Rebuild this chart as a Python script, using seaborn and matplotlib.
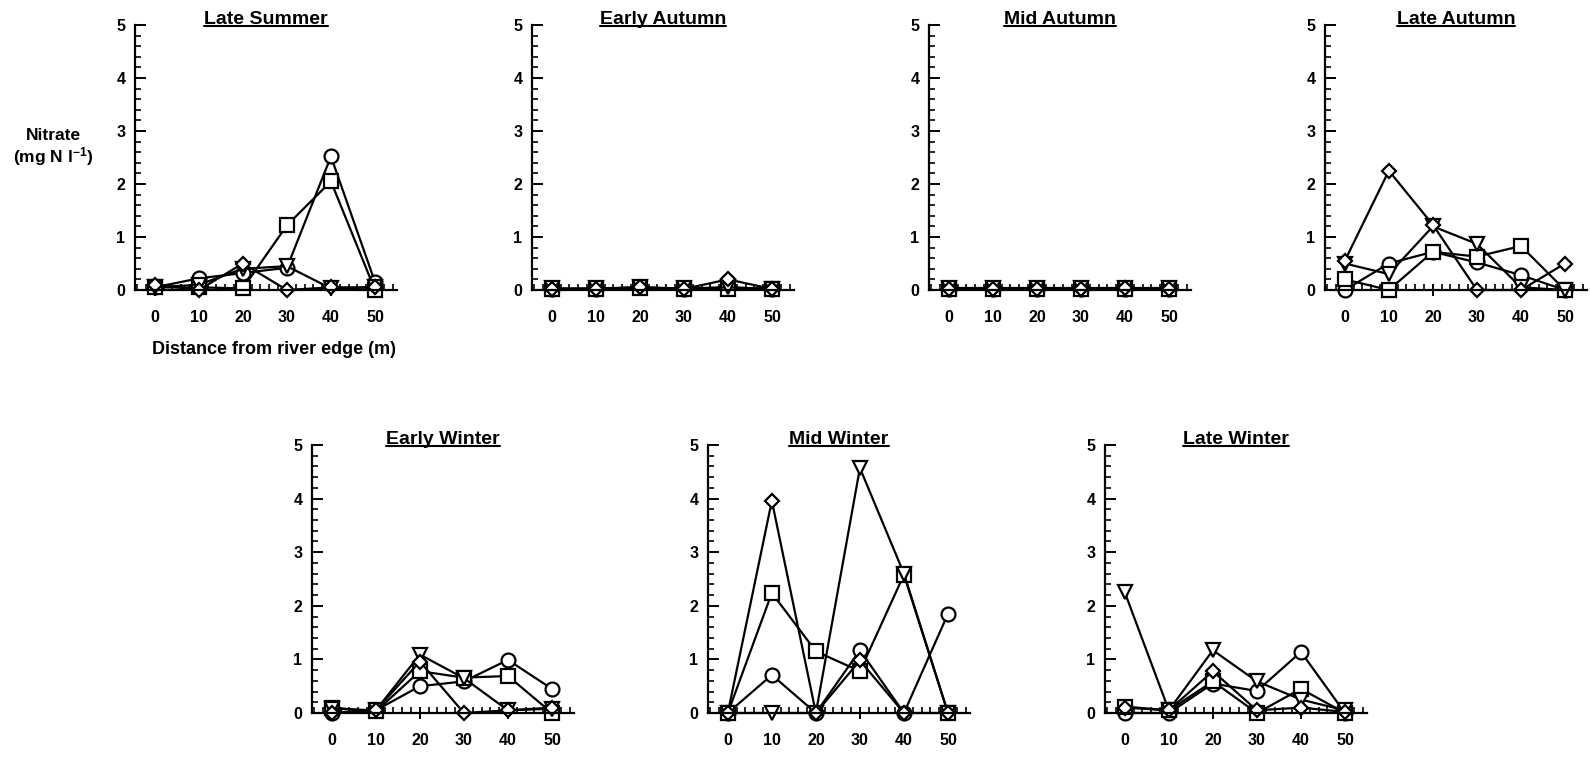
import numpy as np
import pandas as pd
import matplotlib
matplotlib.use("Agg")
import matplotlib.pyplot as plt
from matplotlib.ticker import MultipleLocator
from matplotlib.lines import Line2D
import seaborn as sns

# ---------------- data ----------------
distance = [0, 10, 20, 30, 40, 50]
seasons = ["Late Summer", "Early Autumn", "Mid Autumn", "Late Autumn",
           "Early Winter", "Mid Winter", "Late Winter"]
series_names = ["circle", "square", "triangle", "diamond"]

late_summer_circle = [0.05, 0.22, 0.32, 0.42, 2.52, 0.15]
late_summer_square = [0.05, 0.05, 0.03, 1.22, 2.05, 0.00]
late_summer_triangle = [0.05, 0.10, 0.40, 0.45, 0.03, 0.05]
late_summer_diamond = [0.10, 0.00, 0.50, 0.00, 0.05, 0.05]

early_autumn_circle = [0.02, 0.02, 0.05, 0.02, 0.05, 0.02]
early_autumn_square = [0.02, 0.02, 0.03, 0.02, 0.02, 0.02]
early_autumn_triangle = [0.03, 0.03, 0.05, 0.03, 0.05, 0.02]
early_autumn_diamond = [0.02, 0.02, 0.05, 0.02, 0.20, 0.02]

mid_autumn_circle = [0.02, 0.02, 0.02, 0.02, 0.02, 0.02]
mid_autumn_square = [0.02, 0.02, 0.02, 0.02, 0.02, 0.02]
mid_autumn_triangle = [0.03, 0.03, 0.03, 0.03, 0.03, 0.03]
mid_autumn_diamond = [0.02, 0.02, 0.02, 0.02, 0.03, 0.02]

late_autumn_circle = [0.00, 0.50, 0.72, 0.52, 0.28, 0.00]
late_autumn_square = [0.20, 0.00, 0.72, 0.63, 0.83, 0.00]
late_autumn_triangle = [0.50, 0.30, 1.20, 0.87, 0.05, 0.00]
late_autumn_diamond = [0.55, 2.25, 1.23, 0.00, 0.00, 0.50]

early_winter_circle = [0.00, 0.05, 0.50, 0.59, 0.99, 0.45]
early_winter_square = [0.10, 0.03, 0.78, 0.66, 0.69, 0.00]
early_winter_triangle = [0.08, 0.05, 1.09, 0.65, 0.05, 0.08]
early_winter_diamond = [0.00, 0.05, 0.96, 0.00, 0.05, 0.10]

mid_winter_circle = [0.00, 0.71, 0.00, 1.17, 0.00, 1.85]
mid_winter_square = [0.00, 2.24, 1.15, 0.78, 2.58, 0.00]
mid_winter_triangle = [0.00, 0.00, 0.00, 4.57, 2.60, 0.00]
mid_winter_diamond = [0.00, 3.96, 0.00, 0.98, 0.00, 0.00]

late_winter_circle = [0.00, 0.00, 0.55, 0.41, 1.14, 0.00]
late_winter_square = [0.12, 0.05, 0.59, 0.00, 0.45, 0.00]
late_winter_triangle = [2.25, 0.05, 1.17, 0.59, 0.25, 0.05]
late_winter_diamond = [0.10, 0.05, 0.78, 0.05, 0.10, 0.02]

panel_values = {
    "Late Summer": [late_summer_circle, late_summer_square, late_summer_triangle, late_summer_diamond],
    "Early Autumn": [early_autumn_circle, early_autumn_square, early_autumn_triangle, early_autumn_diamond],
    "Mid Autumn": [mid_autumn_circle, mid_autumn_square, mid_autumn_triangle, mid_autumn_diamond],
    "Late Autumn": [late_autumn_circle, late_autumn_square, late_autumn_triangle, late_autumn_diamond],
    "Early Winter": [early_winter_circle, early_winter_square, early_winter_triangle, early_winter_diamond],
    "Mid Winter": [mid_winter_circle, mid_winter_square, mid_winter_triangle, mid_winter_diamond],
    "Late Winter": [late_winter_circle, late_winter_square, late_winter_triangle, late_winter_diamond],
}

y_label = "Nitrate\n(mg N l$^{-1}$)"
x_label = "Distance from river edge (m)"

# ---------------- style ----------------
sns.set_theme(style="ticks")
plt.rcParams["font.family"] = ["Liberation Sans", "DejaVu Sans"]
plt.rcParams["font.weight"] = "bold"
plt.rcParams["text.color"] = "black"
plt.rcParams["axes.labelcolor"] = "black"
plt.rcParams["xtick.color"] = "black"
plt.rcParams["ytick.color"] = "black"
plt.rcParams["mathtext.fontset"] = "custom"
plt.rcParams["mathtext.rm"] = "Liberation Sans:bold"
plt.rcParams["mathtext.bf"] = "Liberation Sans:bold"
plt.rcParams["mathtext.it"] = "Liberation Sans:bold"
plt.rcParams["mathtext.default"] = "bf"

W, H = 1590, 759
fig = plt.figure(figsize=(W / 100, H / 100), dpi=100)

top_lefts = [135, 532, 929, 1325]
bot_lefts = [312, 708, 1105]
ax_w = 262
ymin = -0.15

def make_axes(left_px, top_px, zero_px):
    per_unit = (zero_px - top_px) / 5.0
    bottom_px = zero_px - ymin * per_unit
    return fig.add_axes([left_px / W, 1 - bottom_px / H, ax_w / W, (bottom_px - top_px) / H])

positions = [(l, 25, 290) for l in top_lefts] + [(l, 445, 713) for l in bot_lefts]

markers = {"circle": "o", "square": "s", "triangle": "v", "diamond": "D"}
msizes = {"circle": 10, "square": 10, "triangle": 10, "diamond": 7.5}

titles = []
for season, (l, t, z) in zip(seasons, positions):
    ax = make_axes(l, t, z)
    vals = panel_values[season]
    for name, v in zip(series_names, vals):
        df = pd.DataFrame({"distance": distance, "nitrate": v, "series": name})
        sns.lineplot(data=df, x="distance", y="nitrate", ax=ax, color="black",
                     marker=markers[name], markersize=msizes[name],
                     markerfacecolor="white", markeredgecolor="black",
                     markeredgewidth=1.6, linewidth=1.6, estimator=None,
                     legend=False, clip_on=False)
    ax.set_xlim(-4.5, 55)
    ax.set_ylim(ymin, 5)
    ax.set_xlabel("")
    ax.set_ylabel("")
    ax.set_xticks(distance)
    ax.set_yticks([0, 1, 2, 3, 4, 5])
    ax.xaxis.set_minor_locator(MultipleLocator(2))
    ax.yaxis.set_minor_locator(MultipleLocator(0.2))
    for s in ["top", "right"]:
        ax.spines[s].set_visible(False)
    ax.spines["left"].set_bounds(0, 5)
    ax.spines["bottom"].set_position(("data", 0))
    for s in ["left", "bottom"]:
        ax.spines[s].set_linewidth(1.6)
        ax.spines[s].set_color("black")
    ax.tick_params(axis="y", which="both", left=True, right=False)
    ax.tick_params(axis="x", which="both", bottom=True, top=False)
    ax.tick_params(axis="y", which="major", direction="in", length=8, width=1.4,
                   labelsize=11.5, pad=7, colors="black")
    ax.tick_params(axis="y", which="minor", direction="in", length=4, width=1.2, colors="black")
    ax.tick_params(axis="x", which="major", direction="inout", length=9, width=1.4,
                   labelsize=11.5, pad=10, colors="black")
    ax.tick_params(axis="x", which="minor", direction="in", length=4, width=1.2, colors="black")
    for lab in ax.get_xticklabels() + ax.get_yticklabels():
        lab.set_fontweight("bold")
    ax.set_facecolor("none")
    ttl = ax.set_title(season, fontsize=14, fontweight="bold", pad=1, y=1.0)
    titles.append(ttl)

fig.text(53 / W, 1 - 148 / H, y_label, ha="center", va="center",
         fontsize=12.5, fontweight="bold", linespacing=1.15)
fig.text(274 / W, 1 - 350 / H, x_label, ha="center", va="center",
         fontsize=13, fontweight="bold")

# underline titles
fig.canvas.draw()
renderer = fig.canvas.get_renderer()
inv = fig.transFigure.inverted()
for ttl in titles:
    bb = ttl.get_window_extent(renderer)
    (x0, y0), (x1, _) = inv.transform([(bb.x0, bb.y0), (bb.x1, bb.y0)])
    fig.add_artist(Line2D([x0, x1], [y0 + 1.5 / H, y0 + 1.5 / H],
                          transform=fig.transFigure, color="black", linewidth=1.5))

fig.savefig("out.png", dpi=100)
